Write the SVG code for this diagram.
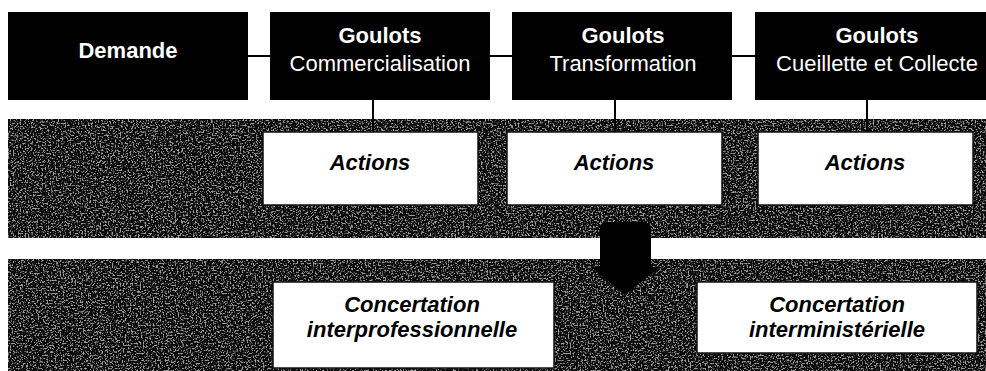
<svg xmlns="http://www.w3.org/2000/svg" width="986" height="371" viewBox="0 0 986 371">
  <defs>
    <!-- speckled dark fill for the two background bands -->
    <filter id="grain" x="0" y="0" width="1" height="1" color-interpolation-filters="sRGB">
      <feTurbulence type="fractalNoise" baseFrequency="0.6" numOctaves="2" seed="11" result="noise"/>
      <feColorMatrix in="noise" type="matrix" values="0 0 0 0 0.62  0 0 0 0 0.62  0 0 0 0 0.62  6 0 0 0 -3.05" result="spk"/>
      <feComposite in="spk" in2="SourceGraphic" operator="in" result="spk2"/>
      <feMerge>
        <feMergeNode in="SourceGraphic"/>
        <feMergeNode in="spk2"/>
      </feMerge>
    </filter>
    <style>
      .band { fill: #0a0a0a; }
      .dark { fill: #000; }
      .light { fill: #fff; stroke: #111; stroke-width: 1.5; }
      .t { font-family: "Liberation Sans", Arial, sans-serif; font-size: 22px; text-anchor: middle; }
      .w { fill: #fff; }
      .b { font-weight: bold; }
      .bi { font-weight: bold; font-style: italic; fill: #000; }
      .link { stroke: #000; stroke-width: 2; fill: none; }
    </style>
  </defs>

  <rect width="986" height="371" fill="#fff"/>

  <!-- background bands -->
  <rect class="band" x="8" y="119" width="978" height="119" filter="url(#grain)"/>
  <rect class="band" x="8" y="259" width="978" height="112" filter="url(#grain)"/>

  <!-- connectors -->
  <g id="connectors">
    <line class="link" x1="248" y1="56" x2="270" y2="56"/>
    <line class="link" x1="490" y1="56" x2="512" y2="56"/>
    <line class="link" x1="732" y1="56" x2="755" y2="56"/>
    <line class="link" x1="373" y1="100" x2="373" y2="132"/>
    <line class="link" x1="615" y1="100" x2="615" y2="132"/>
    <line class="link" x1="867" y1="100" x2="867" y2="132"/>
    <!-- block arrow from the actions band down to the concertation band -->
    <path d="M600 230 Q600 222 608 222 L643 222 Q651 222 651 230 L651 267 L660 267 L625 295 L591 267 L600 267 Z" fill="#000"/>
  </g>

  <!-- top row -->
  <g id="demande">
    <rect class="dark" x="8" y="12" width="240" height="88"/>
    <text class="t w b" x="128" y="58">Demande</text>
  </g>
  <g id="goulots-commercialisation">
    <rect class="dark" x="270" y="12" width="220" height="88"/>
    <text class="t w b" x="380" y="43">Goulots</text>
    <text class="t w" x="380" y="71">Commercialisation</text>
  </g>
  <g id="goulots-transformation">
    <rect class="dark" x="512" y="12" width="220" height="88"/>
    <text class="t w b" x="623" y="43">Goulots</text>
    <text class="t w" x="623" y="71">Transformation</text>
  </g>
  <g id="goulots-cueillette">
    <rect class="dark" x="755" y="12" width="240" height="88"/>
    <text class="t w b" x="877" y="43">Goulots</text>
    <text class="t w" x="877" y="71">Cueillette et Collecte</text>
  </g>

  <!-- actions row -->
  <g id="actions-1">
    <rect class="light" x="263" y="132" width="215" height="73"/>
    <text class="t bi" x="370" y="170">Actions</text>
  </g>
  <g id="actions-2">
    <rect class="light" x="507" y="132" width="215" height="73"/>
    <text class="t bi" x="614" y="170">Actions</text>
  </g>
  <g id="actions-3">
    <rect class="light" x="758" y="132" width="215" height="73"/>
    <text class="t bi" x="865" y="170">Actions</text>
  </g>

  <!-- concertation row -->
  <g id="concertation-interprofessionnelle">
    <rect class="light" x="273" y="282" width="281" height="86"/>
    <text class="t bi" x="412" y="312">Concertation</text>
    <text class="t bi" x="412" y="337">interprofessionnelle</text>
  </g>
  <g id="concertation-interministerielle">
    <rect class="light" x="697" y="282" width="280" height="71"/>
    <text class="t bi" x="837" y="312">Concertation</text>
    <text class="t bi" x="837" y="337">interministérielle</text>
  </g>
</svg>
